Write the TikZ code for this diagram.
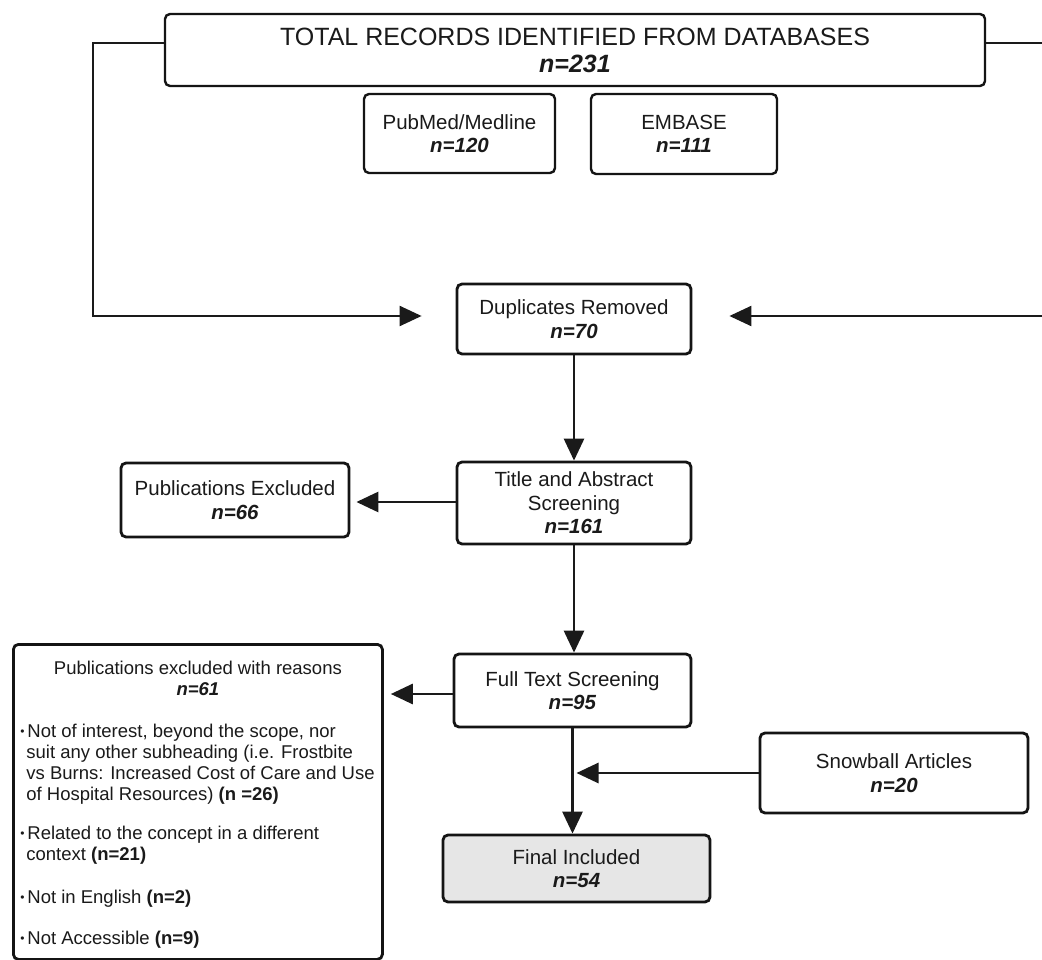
\documentclass[tikz,border=0pt]{standalone}
\usepackage{fontspec}
\setmainfont{Liberation Sans}
\usetikzlibrary{arrows.meta,calc}
\definecolor{linec}{HTML}{1A1A1A}
\definecolor{boxc}{HTML}{141414}
\definecolor{txt}{HTML}{1A1A1A}
\definecolor{fillc}{HTML}{E6E6E6}
\newcommand\nval[1]{\textbf{\textit{n=#1}}}
\newcommand\bitem{\par\hangindent=6pt\hangafter=1\noindent\makebox[7pt][l]{\raisebox{1.8pt}{\fontsize{12}{12}\selectfont •}}}
\tikzset{
  box/.style={draw=boxc,line width=2.8pt,rounded corners=5pt,align=center,inner sep=0pt,
    text=txt,font=\fontsize{20.5}{23.5}\selectfont},
  conn/.style={draw=linec,line width=2.8pt},
  thinconn/.style={draw=linec,line width=2.2pt},
  arr/.style={-{Triangle[length=22pt,width=20pt]}},
}
\begin{document}
\begin{tikzpicture}[x=1pt,y=-1pt]
\clip (0,0) rectangle (1042,960);
\fill[white] (0,0) rectangle (1042,960);

\node[box,line width=2.4pt,minimum width=820pt,minimum height=72pt,font=\fontsize{25}{27}\selectfont] (top) at (575,50)
  {TOTAL RECORDS IDENTIFIED FROM DATABASES\\\nval{231}};
\node[box,line width=2.4pt,minimum width=191pt,minimum height=79pt] (pub) at (459.5,133.5) {PubMed/Medline\\\nval{120}};
\node[box,line width=2.4pt,minimum width=186pt,minimum height=80pt] (emb) at (684,134) {EMBASE\\\nval{111}};

\node[box,minimum width=234pt,minimum height=70pt] (dup) at (574,319) {Duplicates Removed\\\nval{70}};
\node[box,minimum width=234pt,minimum height=82pt] (title) at (574,503) {Title and Abstract\\Screening\\\nval{161}};
\node[box,minimum width=228pt,minimum height=74pt] (pubex) at (235,500) {Publications Excluded\\\nval{66}};
\node[box,minimum width=237pt,minimum height=73pt] (full) at (572.5,690.5) {Full Text Screening\\\nval{95}};
\node[box,minimum width=268pt,minimum height=80pt] (snow) at (894,773) {Snowball Articles\\\nval{20}};
\node[box,fill=fillc,minimum width=267pt,minimum height=67pt] (final) at (576.5,868.5) {Final Included\\\nval{54}};

\node[box,anchor=north west,inner xsep=7pt,inner ysep=7.5pt,align=left] (excl) at (12,643)
{\begin{minipage}[t][300pt][t]{355pt}
\fontsize{18.5}{21}\selectfont\parindent=0pt
\vspace*{9pt}
{\centering Publications excluded with reasons\\\nval{61}\par}
\vspace{21pt}
\bitem Not of interest, beyond the scope, nor\\suit any other subheading (i.e. Frostbite\\vs Burns: Increased Cost of Care and Use\\of Hospital Resources) \textbf{(n =26)}\par
\vspace{18pt}
\bitem Related to the concept in a different\\context \textbf{(n=21)}\par
\vspace{22pt}
\bitem Not in English \textbf{(n=2)}\par
\vspace{20pt}
\bitem Not Accessible \textbf{(n=9)}\par
\end{minipage}};

% connectors
\draw[thinconn,arr] ([yshift=7pt]top.west) -| (93,316) -- ([yshift=3pt,xshift=-34pt]dup.west);
\draw[thinconn,arr] ([yshift=7pt]top.east) -| (1048,316) -- ([yshift=3pt,xshift=37pt]dup.east);
\draw[conn,arr] (dup.south) -- (title.north);
\draw[conn,arr] ([yshift=1pt]title.west) -- ($(pubex.east |- title.west)+(6,-1)$);
\draw[conn,arr] (title.south) -- (title.south |- full.north);
\draw[conn,arr] ([yshift=-3.5pt]full.west) -- ($(excl.east |- full.west)+(7,3.5)$);
\draw[conn,arr] (full.south) -- (full.south |- final.north);
\draw[conn,arr] (snow.west) -- ($(full.south |- snow.west)+(4,0)$);
\end{tikzpicture}
\end{document}
